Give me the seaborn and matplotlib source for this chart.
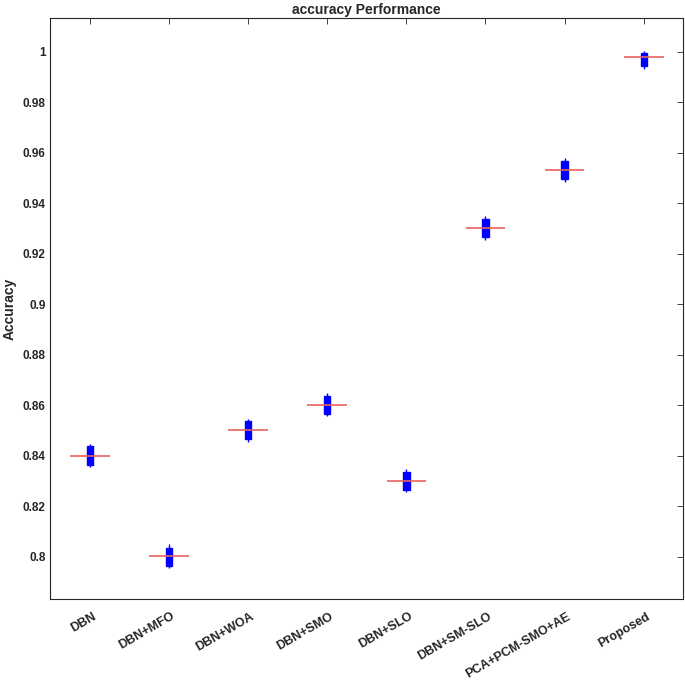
import numpy as np
import pandas as pd
import matplotlib
matplotlib.use("Agg")
import matplotlib.pyplot as plt
import matplotlib.transforms as mtransforms
import seaborn as sns
from matplotlib.ticker import FormatStrFormatter

# methods on the x axis
methods = ['DBN', 'DBN+MFO', 'DBN+WOA', 'DBN+SMO', 'DBN+SLO',
           'DBN+SM-SLO', 'PCA+PCM-SMO+AE', 'Proposed']

# accuracy samples per method (min, q1, median, q3, max)
acc_dbn = [0.8355, 0.8364, 0.8400, 0.8438, 0.8447]
acc_mfo = [0.7953, 0.7962, 0.8003, 0.8036, 0.8048]
acc_woa = [0.8455, 0.8464, 0.8500, 0.8536, 0.8546]
acc_smo = [0.8555, 0.8565, 0.8600, 0.8636, 0.8647]
acc_slo = [0.8255, 0.8264, 0.8300, 0.8336, 0.8346]
acc_smslo = [0.9255, 0.9264, 0.9300, 0.9338, 0.9348]
acc_pca = [0.9485, 0.9495, 0.9530, 0.9568, 0.9578]
acc_proposed = [0.9932, 0.9945, 0.9980, 0.9995, 1.0002]

samples = [acc_dbn, acc_mfo, acc_woa, acc_smo, acc_slo, acc_smslo, acc_pca, acc_proposed]

df = pd.DataFrame({
    'method': np.repeat(methods, [len(s) for s in samples]),
    'accuracy': np.concatenate(samples),
})

sns.set_style('white')
plt.rcParams['font.family'] = ['Liberation Sans', 'DejaVu Sans']

fig = plt.figure(figsize=(6.85, 6.8), dpi=100)
ax = fig.add_axes([0.0734, 0.1187, 0.9241, 0.8544])

blue = '#0000ff'
sns.boxplot(data=df, x='method', y='accuracy', order=methods, ax=ax,
            width=0.08, whis=(0, 100), showcaps=False, showfliers=False,
            boxprops={'facecolor': blue, 'edgecolor': blue, 'linewidth': 1},
            whiskerprops={'color': blue, 'linewidth': 1},
            medianprops={'color': blue, 'linewidth': 0})

# wide red median line, MATLAB compact style
medians = df.groupby('method', sort=False)['accuracy'].median().reindex(methods)
xs = np.arange(len(methods))
ax.hlines(medians.values, xs - 0.25, xs + 0.25, color='#e8625e', linewidth=1.2, zorder=5)

ax.set_xlim(-0.5, len(methods) - 0.5)
ax.set_ylim(0.7831, 1.0132)
ax.set_yticks(np.arange(0.80, 1.001, 0.02))
ax.yaxis.set_major_formatter(FormatStrFormatter('%g'))

ax.set_title('accuracy Performance', fontsize=10, fontweight='bold', pad=3)
ax.set_ylabel('Accuracy', fontsize=10, fontweight='bold', labelpad=4)
ax.set_xlabel('')

for s in ax.spines.values():
    s.set_color('#262626')
    s.set_linewidth(0.8)
ax.tick_params(direction='in', length=4, width=0.6, top=True, right=True,
               labelsize=8.5, colors='#262626')
ax.tick_params(axis='x', pad=8)

# shift rotated labels a little to the right, like the original
shift = mtransforms.ScaledTranslation(1.5 / 72, 0, fig.dpi_scale_trans)
for lbl in ax.get_xticklabels():
    lbl.set_rotation(30)
    lbl.set_ha('right')
    lbl.set_rotation_mode('anchor')
    lbl.set_fontweight('bold')
    lbl.set_fontsize(9)
    lbl.set_transform(lbl.get_transform() + shift)
for lbl in ax.get_yticklabels():
    lbl.set_fontweight('bold')

fig.savefig('out.png', dpi=100)
